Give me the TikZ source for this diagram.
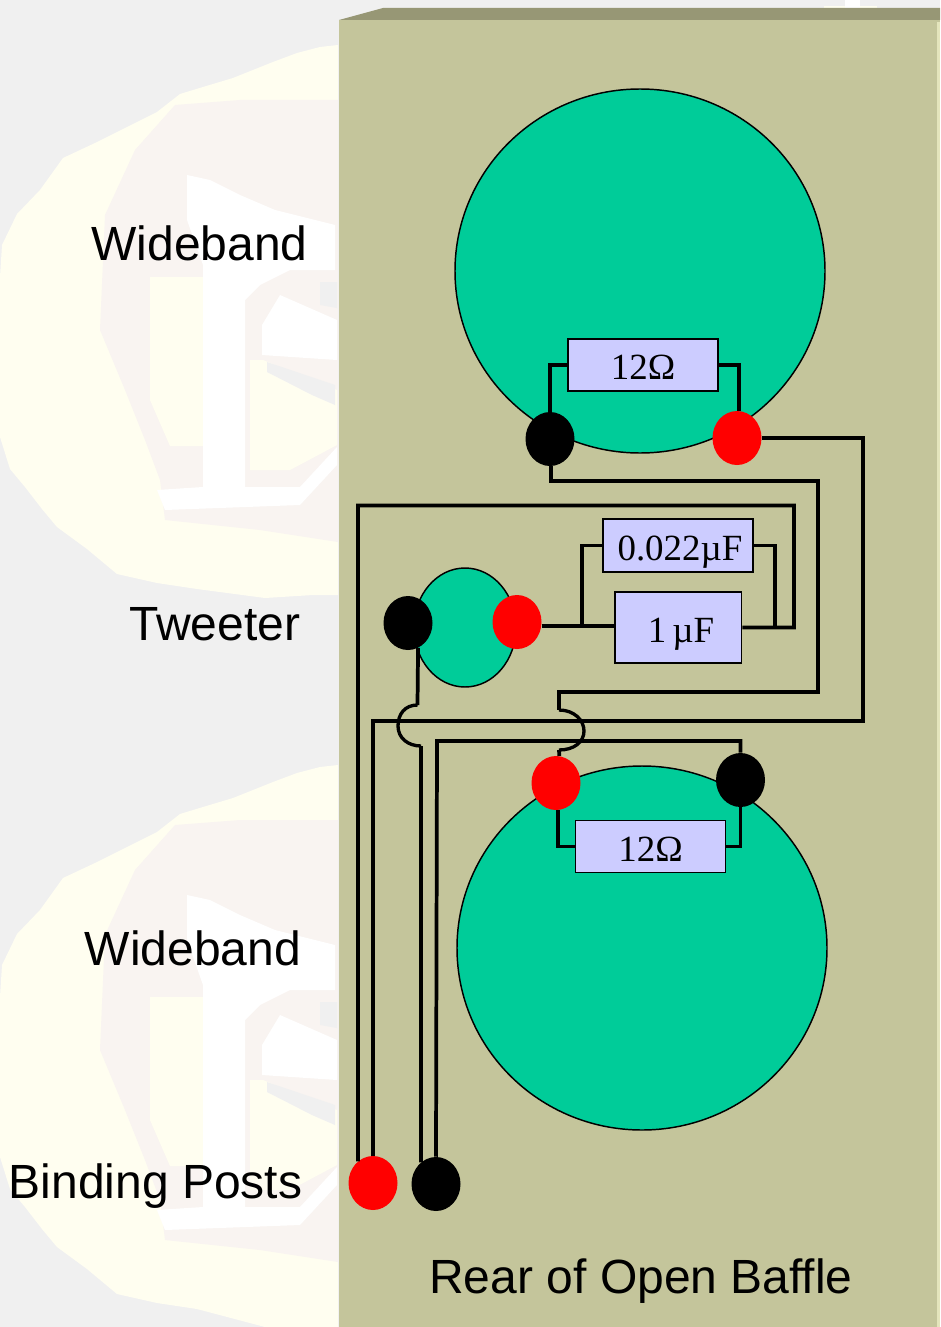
\documentclass[tikz,border=0pt]{standalone}
\usepackage{fontspec}
\setmainfont{Liberation Serif}
\newfontfamily\labelfont{Liberation Sans}
\usetikzlibrary{calc, positioning, shapes.geometric}

\definecolor{pagegray}{HTML}{F0F0F0}
\definecolor{markyellow}{HTML}{FFFEF0}
\definecolor{markpink}{HTML}{F9F4F1}
\definecolor{bafflefront}{HTML}{C4C59B}
\definecolor{baffletop}{HTML}{979775}
\definecolor{baffleedge}{HTML}{E4E5BC}
\definecolor{conegreen}{HTML}{00CC99}
\definecolor{partblue}{HTML}{CCCCFF}

\newcommand{\drawmark}[1]{%
	\begin{scope}[shift={(0,#1)}]
		\fill[markyellow] (338,45) -- (320,47) -- (297,53) -- (273,62) -- (233,78) -- (203,87) -- (180,94) -- (157,112) -- (127,127) -- (95,143) -- (63,158) -- (40,190) -- (17,214) -- (2,245) -- (0,277) -- (0,437) -- (10,469) -- (25,487) -- (42,509) -- (57,527) -- (87,549) -- (117,574) -- (157,583) -- (197,589) -- (265,598) -- (313,595) -- (338,595) -- cycle;
		\fill[markpink] (338,100) -- (240,100) -- (175,105) -- (135,150) -- (105,215) -- (100,330) -- (125,390) -- (145,440) -- (160,480) -- (165,520) -- (260,530) -- (338,542) -- cycle;
		\fill[markyellow] (150,277) -- (205,277) -- (205,446) -- (170,446) -- (150,400) -- cycle;
		\fill[markyellow] (263,360) -- (337,390) -- (337,445) -- (290,470) -- (250,470) -- (250,360) -- cycle;
		\fill[white] (187,175) -- (210,180) -- (240,195) -- (275,210) -- (335,225) -- (335,270) -- (290,270) -- (260,285) -- (245,300) -- (245,487) -- (300,487) -- (337,447) -- (337,465) -- (300,505) -- (165,510) -- (157,490) -- (203,487) -- (203,265) -- (187,220) -- cycle;
		\fill[white] (262,325) -- (280,295) -- (337,320) -- (337,360) -- (262,355) -- cycle;
		\fill[pagegray] (267,362) -- (335,385) -- (335,405) -- (312,395) -- (267,372) -- cycle;
		\fill[pagegray] (320,282) -- (337,282) -- (337,308) -- (320,305) -- cycle;
	\end{scope}
}

\begin{document}
\begin{tikzpicture}[x=0.75pt, y=-0.75pt]
	\tikzstyle{wire} = [line width=2.8pt, line join=miter, black]
	\tikzstyle{hop} = [line width=2.5pt, black]
	\tikzstyle{cone} = [draw=black, line width=1.1pt, fill=conegreen, ellipse, inner sep=0pt]
	\tikzstyle{woofer} = [cone, minimum width=277.5pt, minimum height=273pt]
	\tikzstyle{terminal} = [ellipse, inner sep=0pt, minimum width=36.75pt, minimum height=40.5pt]
	\tikzstyle{part} = [draw=black, line width=1.2pt, fill=partblue, inner sep=0pt, text height=21.8pt, text depth=0pt, font=\fontsize{27.7}{28}\selectfont]
	\tikzstyle{caption} = [inner sep=0pt, font=\labelfont\fontsize{36}{36}\selectfont]

	\useasboundingbox (0,0) rectangle (940,1327);
	\fill[pagegray] (0,0) rectangle (940,1327);
	\drawmark{0}
	\drawmark{720}
	\fill[markyellow] (197,1309) -- (265,1327) -- (338,1327) -- (338,1310) -- cycle;
	\fill[markyellow] (824,6) rectangle (877,8);
	\fill[white] (845,0) rectangle (860,8);

	% baffle
	\fill[bafflefront] (339,20) rectangle (940,1327);
	\fill[baffletop] (339,20) -- (383,8) -- (940,8) -- (940,20) -- cycle;
	\fill[baffleedge] (937,22) rectangle (940,1327);

	\node[woofer] 	at (640, 271) 		(wtop) 	{};
	\node[woofer] 	at (642, 948) 		(wbot) 	{};
	\node[cone, minimum width=76.5pt, minimum height=89.25pt] 	at (465, 627.5) 	(tweet) 	{};

	\node[part, minimum width=112.5pt, minimum height=39pt] 	at (643, 365) 		(rtop) 	{12Ω};
	\node[part, minimum width=112.5pt, minimum height=39pt] 	at (650.5, 846.5) 	(rbot) 	{12Ω};
	\node[part, minimum width=112.5pt, minimum height=39.5pt] 	at (678, 545.5) 	(csmall) 	{\kern3pt 0.022µF};
	\node[part, minimum width=95pt, minimum height=53pt] 		at (678.3, 627.5) 	(cbig) 	{\kern4pt 1\,µF};

	\node[terminal, fill=black] 	at (550, 439) 		(topblack) 	{};
	\node[terminal, fill=red] 		at (737, 438) 		(topred) 	{};
	\node[terminal, fill=black] 	at (408, 623) 		(twblack) 	{};
	\node[terminal, fill=red] 		at (517, 622) 		(twred) 	{};
	\node[terminal, fill=red] 		at (556, 783) 		(botred) 	{};
	\node[terminal, fill=black] 	at (740.5, 780) 	(botblack) 	{};
	\node[terminal, fill=red] 		at (373, 1183) 		(postred) 	{};
	\node[terminal, fill=black] 	at (436, 1184) 		(postblack) 	{};

	\coordinate (hopa) at (417.5, 705);
	\coordinate (hopb) at (421, 746);
	\coordinate (hopc) at (559, 710);
	\coordinate (hopd) at (559, 750);

	% speaker shunts
	\draw[wire] (topblack.north) |- (rtop.west);
	\draw[wire] (topred.north) ++(2,0) |- (rtop.east);
	\draw[wire] (botred.south) ++(2,0) |- (rbot.west);
	\draw[wire] (botblack.south) |- (rbot.east);

	% crossover
	\draw[wire] (twred.east) ++(0,4) -- +(73,0);
	\draw[wire] (582, 626) |- (csmall.west);
	\draw[wire] (csmall.east) -| (775, 628);
	\draw[wire] (cbig.east) -- (794, 627.5) |- (360, 505.5) -- (358, 505.5) -- (postred.125);

	% woofers and posts
	\draw[wire] (topblack.south) ++(1,0) |- (818, 481) |- (559, 692) -- (hopc);
	\draw[hop] (hopc) .. controls (574, 710) and (584, 720) .. (584, 731) .. controls (584, 742) and (574, 750) .. (hopd);
	\draw[wire] (hopd) -- (botred.83);
	\draw[wire] (topred.east) -| (863, 721) -| (postred.north);
	\draw[wire] (botblack.north) |- (437, 741) -- (postblack.north);
	\draw[wire] (twblack.-68) -- (hopa);
	\draw[hop] (hopa) .. controls (405, 705) and (398, 714) .. (398, 726) .. controls (398, 738) and (408, 746) .. (hopb);
	\draw[wire] (hopb) -- (postblack.125);

	\node[caption] 	at (199.5, 243) 	(lwtop) 	{Wideband};
	\node[caption] 	at (215, 624) 		(ltweet) 	{Tweeter};
	\node[caption] 	at (193, 948) 		(lwbot) 	{Wideband};
	\node[caption] 	at (155.5, 1186) 	(lposts) 	{Binding Posts};
	\node[caption] 	at (641, 1281) 		(lrear) 	{Rear of Open Baffle};
\end{tikzpicture}
\end{document}
